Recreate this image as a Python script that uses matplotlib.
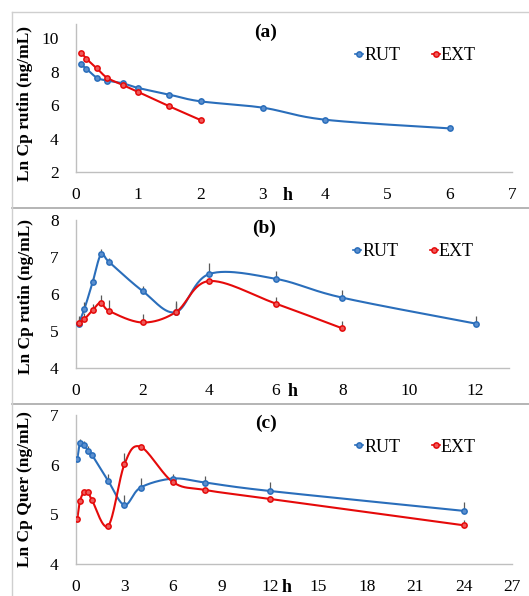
import numpy as np
import matplotlib
matplotlib.use("Agg")
import matplotlib.pyplot as plt
from matplotlib.lines import Line2D

plt.rcParams['font.family'] = ['Liberation Serif', 'DejaVu Serif']

# ---- data ----
t_a_rut = [0.083, 0.167, 0.333, 0.5, 0.75, 1, 1.5, 2, 3, 4, 6]
a_rut = [8.44, 8.18, 7.65, 7.47, 7.31, 7.03, 6.63, 6.23, 5.85, 5.13, 4.61]
a_rut_err = [0.05, 0.05, 0.05, 0.05, 0.05, 0.05, 0.05, 0.18, 0.16, 0.05, 0.05]
t_a_ext = [0.083, 0.167, 0.333, 0.5, 0.75, 1, 1.5, 2]
a_ext = [9.14, 8.78, 8.21, 7.64, 7.21, 6.79, 5.93, 5.11]
a_ext_err = [0.05, 0.05, 0.05, 0.05, 0.05, 0.05, 0.05, 0.05]

t_b_rut = [0.083, 0.25, 0.5, 0.75, 1, 2, 3, 4, 6, 8, 12]
b_rut = [5.19, 5.59, 6.32, 7.07, 6.86, 6.08, 5.51, 6.54, 6.41, 5.90, 5.20]
b_rut_err = [0.15, 0.2, 0.1, 0.14, 0.1, 0.13, 0.3, 0.31, 0.21, 0.22, 0.21]
t_b_ext = [0.083, 0.25, 0.5, 0.75, 1, 2, 3, 4, 6, 8]
b_ext = [5.21, 5.32, 5.56, 5.77, 5.54, 5.23, 5.51, 6.35, 5.74, 5.07]
b_ext_err = [0.2, 0.16, 0.17, 0.2, 0.31, 0.22, 0.25, 0.05, 0.19, 0.19]

t_c = [0.083, 0.25, 0.5, 0.75, 1, 2, 3, 4, 6, 8, 12, 24]
c_rut = [6.11, 6.43, 6.39, 6.28, 6.19, 5.67, 5.19, 5.54, 5.72, 5.64, 5.47, 5.07]
c_rut_err = [0.03, 0.08, 0.08, 0.1, 0.05, 0.15, 0.2, 0.2, 0.1, 0.14, 0.18, 0.18]
c_ext = [4.91, 5.27, 5.45, 5.45, 5.28, 4.77, 6.01, 6.36, 5.65, 5.49, 5.31, 4.78]
c_ext_err = [0.03, 0.03, 0.03, 0.03, 0.03, 0.03, 0.23, 0.03, 0.03, 0.03, 0.05, 0.1]

BLUE = '#2a6ebb'
BLUE_F = '#5b8fcf'
RED = '#e50a0a'
RED_F = '#ee5a5a'
ERR = '#5a5a5a'

W, H = 529, 596


def smooth(x, y, n=30):
    # Excel-like smoothed line (Catmull-Rom as cubic Bezier)
    p = np.column_stack([x, y]).astype(float)
    p = np.vstack([p[0], p, p[-1]])
    out = []
    tt = np.linspace(0, 1, n)[:, None]
    for i in range(1, len(p) - 2):
        p0, p1, p2, p3 = p[i - 1], p[i], p[i + 1], p[i + 2]
        c1 = p1 + (p2 - p0) / 6
        c2 = p2 - (p3 - p1) / 6
        seg = ((1 - tt) ** 3) * p1 + 3 * ((1 - tt) ** 2) * tt * c1 + 3 * (1 - tt) * tt ** 2 * c2 + tt ** 3 * p2
        out.append(seg)
    s = np.vstack(out)
    return s[:, 0], s[:, 1]


def series(ax, t, v, err, col, fc, label):
    sx, sy = smooth(t, v)
    ax.plot(sx, sy, color=col, lw=1.5, zorder=2)
    ax.errorbar(t, v, yerr=[np.zeros(len(err)), err], fmt='none', ecolor=ERR,
                elinewidth=0.9, capsize=0, zorder=3)
    ax.plot(t, v, ls='none', marker='o', ms=3.8, mfc=fc, mec=col, mew=1.1, zorder=4)
    ax.plot([], [], color=col, lw=1.2, marker='o', ms=3.8, mfc=fc, mec=col, mew=1.1, label=label)


def panel(box, xlim, xticks, ylim, yticks, ylab, title, h_x, lab_y):
    left, right, top, bottom = box
    ax = fig.add_axes([left / W, 1 - bottom / H, (right - left) / W, (bottom - top) / H])
    ax.set_xlim(*xlim)
    ax.set_ylim(*ylim)
    ax.set_xticks(xticks)
    ax.set_yticks(yticks)
    for s in ['top', 'right']:
        ax.spines[s].set_visible(False)
    for s in ['left', 'bottom']:
        ax.spines[s].set_color('#bfbfbf')
        ax.spines[s].set_linewidth(1.0)
    ax.tick_params(axis='x', length=0, pad=11, labelsize=12.5)
    ax.tick_params(axis='y', length=0, pad=12.5, labelsize=12.5)
    ax.text(-0.116, lab_y, ylab, transform=ax.transAxes, rotation=90,
            ha='center', va='center', fontsize=12.5, fontweight='bold')
    ax.text(0.435, 0.945, title, transform=ax.transAxes, ha='center', va='center',
            fontsize=14, fontweight='bold')
    ax.annotate('h', xy=(h_x, 0), xycoords=('data', 'axes fraction'),
                xytext=(0, -11), textcoords='offset points', ha='center', va='top',
                fontsize=13, fontweight='bold')
    return ax


def legend(ax):
    ax.legend(loc='center left', bbox_to_anchor=(0.64, 0.785), ncol=2, frameon=False,
              handlelength=0.45, handletextpad=0.05, columnspacing=1.75,
              borderpad=0, borderaxespad=0, fontsize=13)


fig = plt.figure(figsize=(W / 100, H / 100), dpi=100)

# panel frames
for y in (208, 404):
    fig.add_artist(Line2D([12 / W, 1], [1 - y / H, 1 - y / H], transform=fig.transFigure,
                          color='#a8a8a8', lw=1.2))
fig.add_artist(Line2D([12 / W, 1], [1 - 12 / H, 1 - 12 / H], transform=fig.transFigure,
                      color='#cfcfcf', lw=1.0))
fig.add_artist(Line2D([12 / W, 12 / W], [1 - 12 / H, 0], transform=fig.transFigure,
                      color='#cfcfcf', lw=1.0))

# (a)
ax = panel((76, 512, 24, 172), (0, 7), range(0, 8), (2, 10.86), [2, 4, 6, 8, 10],
           'Ln Cp rutin (ng/mL)', '(a)', 3.39, 0.465)
series(ax, t_a_rut, a_rut, a_rut_err, BLUE, BLUE_F, 'RUT')
series(ax, t_a_ext, a_ext, a_ext_err, RED, RED_F, 'EXT')
legend(ax)

# (b)
ax = panel((76, 509, 220, 368), (0, 13), range(0, 13, 2), (4, 8), [4, 5, 6, 7, 8],
           'Ln Cp rutin (ng/mL)', '(b)', 6.5, 0.485)
series(ax, t_b_rut, b_rut, b_rut_err, BLUE, BLUE_F, 'RUT')
series(ax, t_b_ext, b_ext, b_ext_err, RED, RED_F, 'EXT')
legend(ax)

# (c)
ax = panel((76, 512, 415, 564), (0, 27), range(0, 28, 3), (4, 7), [4, 5, 6, 7],
           'Ln Cp Quer (ng/mL)', '(c)', 13.06, 0.5)
series(ax, t_c, c_rut, c_rut_err, BLUE, BLUE_F, 'RUT')
series(ax, t_c, c_ext, c_ext_err, RED, RED_F, 'EXT')
legend(ax)

fig.savefig('out.png', dpi=100)
